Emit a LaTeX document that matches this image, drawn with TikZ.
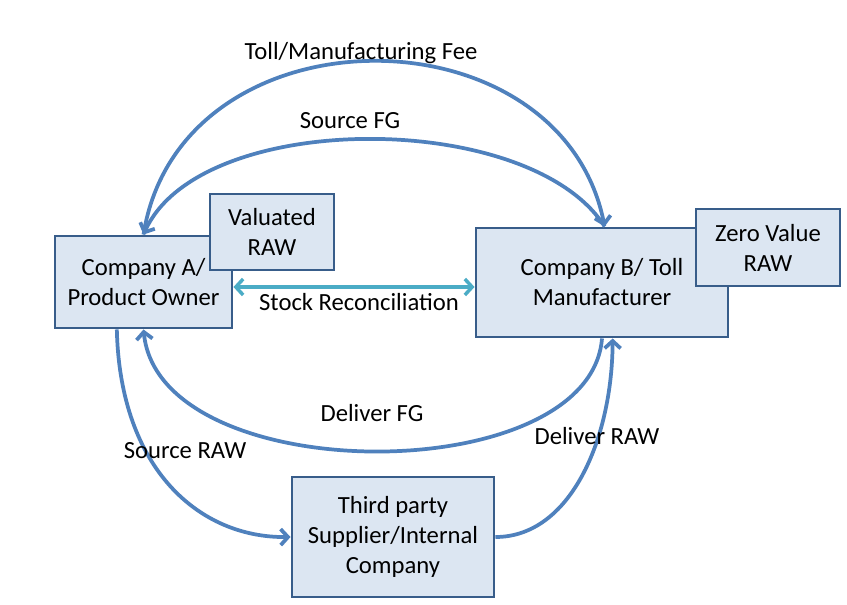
\documentclass[tikz,border=0pt]{standalone}
\usepackage{fontspec}
\setmainfont{Carlito}
\usetikzlibrary{arrows.meta}
\definecolor{lineblue}{HTML}{4F81BD}
\definecolor{boxfill}{HTML}{DCE6F2}
\definecolor{boxborder}{HTML}{385D8A}
\definecolor{teal}{HTML}{4BACC6}
\tikzset{
  box/.style={draw=boxborder, fill=boxfill, line width=2.2pt, inner sep=0pt, align=center,
    font=\fontsize{18.5}{22.5}\selectfont},
  flow/.style={draw=lineblue, line width=2.8pt, -{Straight Barb[length=5.5pt,width=12pt]}},
  recon/.style={draw=teal, line width=2.6pt, {Straight Barb[length=5.5pt,width=12pt]}-{Straight Barb[length=5.5pt,width=12pt]}},
  lbl/.style={font=\fontsize{18.5}{22.5}\selectfont, inner sep=0pt}
}
\begin{document}
\begin{tikzpicture}[x=0.75pt,y=-0.75pt]
\useasboundingbox (0,0) rectangle (847,604);
\fill[white] (0,0) rectangle (847,604);

\node[box, minimum width=132.75pt, minimum height=69pt] (A) at (143.5,282) {Company A/\\Product Owner};
\node[box, minimum width=93pt, minimum height=57pt] (VR) at (272,232) {Valuated\\RAW};
\node[box, minimum width=189pt, minimum height=81.75pt] (B) at (602,282.5) {Company B/ Toll\\Manufacturer};
\node[box, minimum width=108pt, minimum height=57.75pt] (ZR) at (768,247.5) {Zero Value\\RAW};
\node[box, minimum width=151.5pt, minimum height=90pt] (T) at (393,537) {Third party\\Supplier/Internal\\Company};

% top arcs
\draw[flow] (A.north) .. controls (180,5) and (560,5) .. ([xshift=2pt]B.north);
\draw[flow] ([xshift=2pt]B.north) .. controls (530,109) and (200,109) .. (A.north);

% stock reconciliation
\coordinate (sr) at (0,287);
\draw[recon] (A.east |- sr) -- (B.west |- sr);

% deliver FG
\draw[flow] (B.south) .. controls (590,490) and (160,490) .. (A.south);

% source RAW
\draw[flow] ([xshift=-20pt]A.south) .. controls (120,470) and (200,538) .. (T.west);

% deliver RAW
\draw[flow] (T.east) .. controls (570,537) and (612,440) .. ([xshift=8pt]B.south);

\node[lbl] (l1) at (361,53) {Toll/Manufacturing Fee};
\node[lbl] (l2) at (350,121) {Source FG};
\node[lbl] (l3) at (359,302) {Stock Reconciliation};
\node[lbl] (l4) at (372,413) {Deliver FG};
\node[lbl] (l5) at (185,451) {Source RAW};
\node[lbl] (l6) at (597,436) {Deliver RAW};
\end{tikzpicture}
\end{document}
